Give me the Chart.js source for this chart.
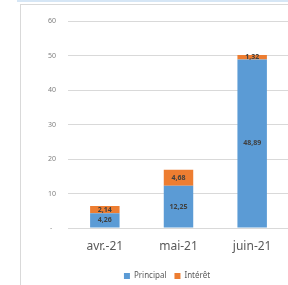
<!DOCTYPE html>
<html lang="fr">
<head>
    <meta charset="UTF-8">
    <title>Principal / Intérêt</title>
    <script src="https://cdn.jsdelivr.net/npm/chart.js"></script>
    <style>
        html, body {
            margin: 0;
            padding: 0;
            width: 288px;
            height: 285px;
            overflow: hidden;
            background: #ffffff;
        }
        .topline {
            position: absolute;
            left: 17px;
            top: 0;
            width: 290px;
            height: 2px;
            background: #d6e6f5;
        }
        .frame {
            position: absolute;
            left: 20px;
            top: 4px;
            width: 290px;
            height: 290px;
            border-left: 1px solid #d9d9d9;
            border-top: 1px solid #d9d9d9;
        }
        .frame canvas {
            position: absolute;
            left: 0;
            top: 0;
        }
    </style>
</head>
<body>
    <div class="topline"></div>
    <div class="frame">
        <canvas id="chart" width="286" height="281" style="width:286px;height:281px"></canvas>
    </div>

    <script>
        const months = ['avr.-21', 'mai-21', 'juin-21'];
        const principal = [4.26, 12.25, 48.89];
        const interet = [2.14, 4.68, 1.32];
        const yTicks = [0, 10, 20, 30, 40, 50, 60];

        const fmt = v => v.toFixed(2).replace('.', ',');

        // étiquettes au centre de chaque segment
        const barLabels = {
            id: 'barLabels',
            afterDatasetsDraw(chart) {
                const ctx = chart.ctx;
                ctx.save();
                ctx.font = 'bold 7px "Noto Sans"';
                ctx.fillStyle = '#404040';
                ctx.textAlign = 'center';
                ctx.textBaseline = 'middle';
                chart.data.datasets.forEach((ds, i) => {
                    chart.getDatasetMeta(i).data.forEach((bar, j) => {
                        const mid = (bar.y + bar.base) / 2;
                        ctx.fillText(fmt(ds.data[j]), bar.x, mid);
                    });
                });
                ctx.restore();
            }
        };

        new Chart(document.getElementById('chart'), {
            type: 'bar',
            data: {
                labels: months,
                datasets: [
                    { label: 'Principal', data: principal, backgroundColor: '#5b9bd5' },
                    { label: 'Intérêt', data: interet, backgroundColor: '#ed7d31' }
                ]
            },
            options: {
                responsive: false,
                animation: false,
                barPercentage: 0.4,
                categoryPercentage: 1,
                layout: { padding: { top: 4, right: -6, bottom: -4, left: 0 } },
                plugins: {
                    tooltip: { enabled: false },
                    legend: {
                        position: 'bottom',
                        labels: {
                            boxWidth: 6,
                            boxHeight: 6,
                            padding: 8,
                            color: '#595959',
                            font: { family: '"Noto Sans"', size: 8 }
                        }
                    }
                },
                scales: {
                    x: {
                        stacked: true,
                        afterFit: s => { s.height = 36; },
                        grid: { display: false, drawTicks: false },
                        border: { color: '#d9d9d9' },
                        ticks: {
                            color: '#595959',
                            padding: 11,
                            font: { family: '"Noto Sans"', size: 12 }
                        }
                    },
                    y: {
                        stacked: true,
                        min: 0,
                        max: 60,
                        afterFit: s => { s.width = 47; },
                        afterBuildTicks: s => { s.ticks = yTicks.map(v => ({ value: v })); },
                        grid: { color: '#d9d9d9', drawTicks: false },
                        border: { display: false },
                        ticks: {
                            color: '#7f7f7f',
                            padding: 12,
                            font: { family: '"Noto Sans"', size: 7 },
                            callback: v => v === 0 ? '-  ' : v
                        }
                    },
                    // axe vide à droite : la zone de tracé déborde du cadre
                    y2: {
                        position: 'right',
                        afterFit: s => { s.width = 24; },
                        grid: { display: false },
                        border: { display: false },
                        ticks: { display: false }
                    }
                }
            },
            plugins: [barLabels]
        });
    </script>
</body>
</html>
